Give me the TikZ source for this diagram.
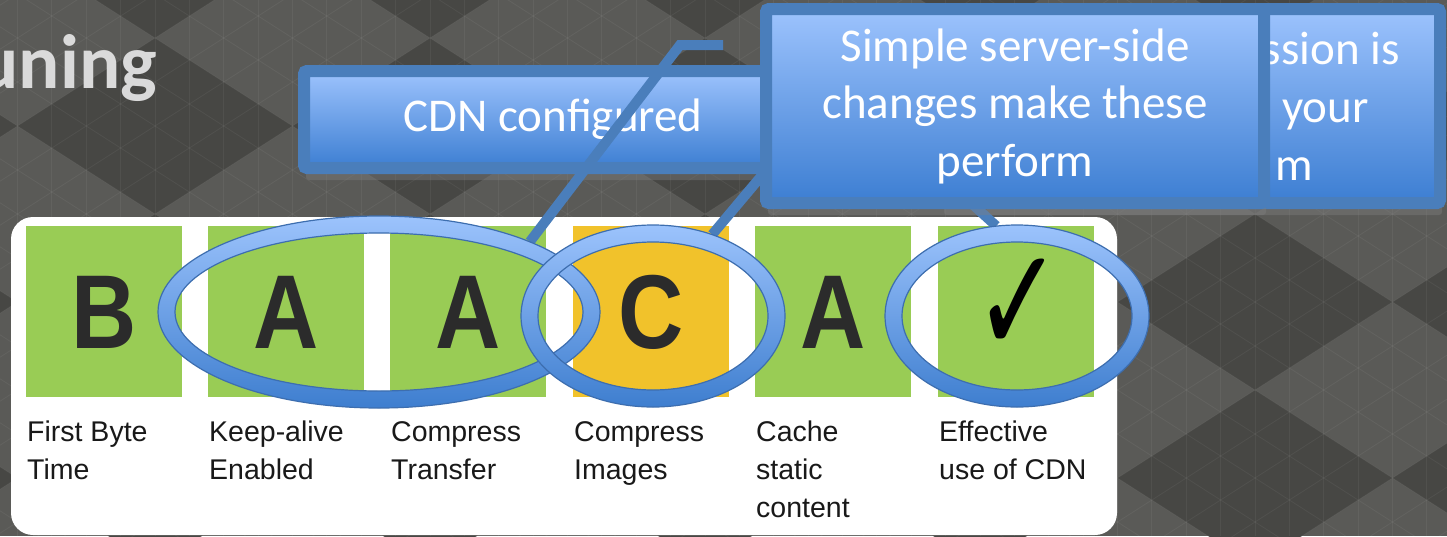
\documentclass[tikz,border=0pt]{standalone}
\usepackage{fontspec}
\setmainfont{Carlito}
\newfontfamily\gradefont{Liberation Sans}
\newfontfamily\tickfont{DejaVu Sans}
\usetikzlibrary{positioning,shapes.geometric,shadows}

\definecolor{slidebg}{HTML}{5A5A57}
\definecolor{slidedark}{HTML}{474744}
\definecolor{titlegray}{HTML}{DADADA}
\definecolor{calloutedge}{HTML}{4A7EBB}
\definecolor{callouttop}{HTML}{9DC3FD}
\definecolor{calloutbot}{HTML}{3C7ED2}
\definecolor{gradegreen}{HTML}{99CC55}
\definecolor{gradeyellow}{HTML}{F1C22B}
\definecolor{gradeink}{HTML}{2B2B2B}
\definecolor{ringtop}{HTML}{9CC3FC}
\definecolor{ringbot}{HTML}{3E7ECF}
\definecolor{ringedge}{HTML}{3D6EAF}

\begin{document}
\begin{tikzpicture}[x=1pt,y=-1pt,
  callout/.style={draw=calloutedge, line width=12pt, rounded corners=3pt,
    top color=callouttop, bottom color=calloutbot, minimum width=498pt,
    inner sep=0pt, text=white, align=center,
    font=\fontsize{47}{57.5}\selectfont,
    drop shadow={shadow xshift=2pt, shadow yshift=-12pt, opacity=.4}},
  callout text/.style={text=white, inner sep=0pt, font=\fontsize{47}{57.5}\selectfont},
  leader/.style={draw=calloutedge, line width=10pt},
  grade box/.style={minimum width=156pt, minimum height=171pt, inner sep=0pt},
  grade letter/.style={anchor=base, inner sep=0pt, text=gradeink,
    font=\gradefont\bfseries\fontsize{105}{105}\selectfont},
  grade label/.style={anchor=north west, inner sep=0pt, align=left, text=black!90,
    font=\gradefont\fontsize{28.5}{38}\selectfont},
  ring spot/.style={ellipse, inner sep=0pt},
  ring/.style={top color=ringtop, bottom color=ringbot, even odd rule},
  gridline/.style={white, opacity=.05, line width=.8pt}]
\useasboundingbox (0,0) rectangle (1447,536);

% slide background
\begin{scope}
\clip (0,0) rectangle (1447,536);
\fill[slidebg] (0,0) rectangle (1447,536);
\foreach \i in {-5,...,1}
  \foreach \j in {-2,...,2}
    \fill[slidedark] ({1117.5+275*\i},{302+176*\j}) -- ++(137.5,-88) -- ++(137.5,88) -- ++(-137.5,88) -- cycle;
\foreach \k in {-41,...,6}
  \draw[gridline] ({1255+34.375*\k},0) -- ++(0,536);
\foreach \n in {-12,...,24}
  \draw[gridline] (0,{-501.2+44*\n}) -- (1447,{424.9+44*\n});
\foreach \n in {-26,...,9}
  \draw[gridline] (0,{1105.2+44*\n}) -- (1447,{179.1+44*\n});
\end{scope}

\node[anchor=base east, inner sep=0pt, text=titlegray,
  font=\bfseries\fontsize{77}{77}\selectfont] (title) at (157,88) {uning};

% grade panel
\fill[white, rounded corners=22pt] (11,217) rectangle (1117,535);
\foreach \x/\g/\c/\n/\lab in {104/B/gradegreen/ttfb/{First Byte\\Time},
    286/A/gradegreen/alive/{Keep-alive\\Enabled},
    468/A/gradegreen/gzip/{Compress\\Transfer},
    651/C/gradeyellow/img/{Compress\\Images},
    833/A/gradegreen/cache/{Cache\\static\\content},
    1016//gradegreen/cdn/{Effective\\use of CDN}} {
  \node[grade box, fill=\c] (box-\n) at (\x,311.5) {};
  \node[grade letter] (grade-\n) at (\x,348) {\scalebox{.86}[1]{\g}};
  \node[grade label] (label-\n) at (\x-77,421) {\lab};
}
\node[inner sep=0pt, font=\tickfont\fontsize{100}{100}\selectfont] (tick) at (1018,306) {\scalebox{1.05}[1.5]{✓}};

% callouts behind
\node[callout, minimum height=97pt] (cdn box) at (553,119.5) {CDN configured};
\node[callout, minimum height=194pt] (back box) at (1191,106) {};
\node[callout text, anchor=base east] (back line1) at (1400,64) {ssion is};
\node[callout text, anchor=base west] (back line2) at (1282,122) {your};
\node[callout text, anchor=base west] (back line3) at (1275,180) {m};

% rings
\node[ring spot, minimum width=442pt, minimum height=192pt] (keep ring) at (379,312) {};
\node[ring spot, minimum width=264pt, minimum height=182pt] (img ring) at (653,316) {};
\node[ring spot, minimum width=264pt, minimum height=182pt] (cdn ring) at (1017,316) {};

\coordinate (cdn knee) at (680,45);
\coordinate (cdn tip) at (723,45);
\coordinate (srv foot) at (790,142);
\coordinate (back foot) at (960,193);
\draw[leader] (keep ring.25) -- (cdn knee) -- (cdn tip);
\draw[leader] (img ring.54) -- (srv foot);
\draw[leader] (cdn ring.103) -- (back foot);

\fill[black, opacity=.15, even odd rule, yshift=-6pt]
  (keep ring.center) ellipse [x radius=221pt, y radius=96pt] (keep ring.center) ellipse [x radius=204pt, y radius=79pt];
\shade[ring] (keep ring.center) ellipse [x radius=221pt, y radius=96pt] (keep ring.center) ellipse [x radius=204pt, y radius=79pt];
\draw[ringedge, line width=1.2pt] (keep ring.center) ellipse [x radius=221pt, y radius=96pt] (keep ring.center) ellipse [x radius=204pt, y radius=79pt];

\fill[black, opacity=.15, even odd rule, yshift=-6pt]
  (img ring.center) ellipse [x radius=132pt, y radius=91pt] (img ring.center) ellipse [x radius=115pt, y radius=74pt];
\shade[ring] (img ring.center) ellipse [x radius=132pt, y radius=91pt] (img ring.center) ellipse [x radius=115pt, y radius=74pt];
\draw[ringedge, line width=1.2pt] (img ring.center) ellipse [x radius=132pt, y radius=91pt] (img ring.center) ellipse [x radius=115pt, y radius=74pt];

\fill[black, opacity=.15, even odd rule, yshift=-6pt]
  (cdn ring.center) ellipse [x radius=132pt, y radius=91pt] (cdn ring.center) ellipse [x radius=115pt, y radius=74pt];
\shade[ring] (cdn ring.center) ellipse [x radius=132pt, y radius=91pt] (cdn ring.center) ellipse [x radius=115pt, y radius=74pt];
\draw[ringedge, line width=1.2pt] (cdn ring.center) ellipse [x radius=132pt, y radius=91pt] (cdn ring.center) ellipse [x radius=115pt, y radius=74pt];

% front callout
\node[callout, minimum height=194pt] (srv box) at (1015,106) {Simple server-side\\changes make these\\perform};
\end{tikzpicture}
\end{document}
